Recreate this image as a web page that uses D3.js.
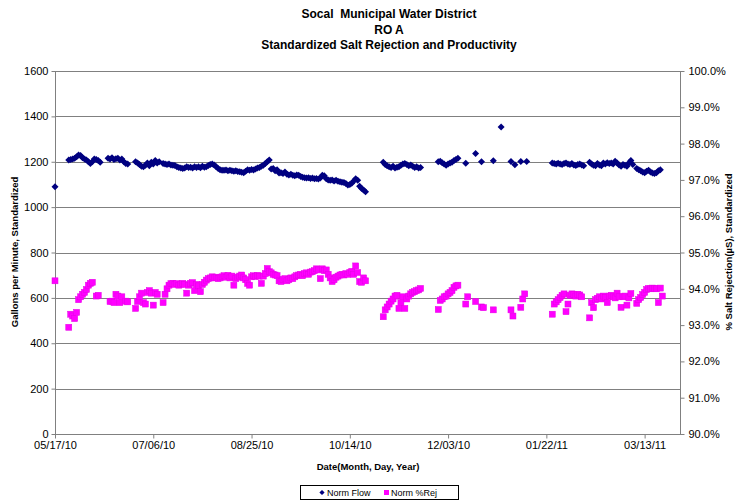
<!DOCTYPE html>
<html><head><meta charset="utf-8">
<script src="https://cdn.jsdelivr.net/npm/d3@7"></script>
<style>body{margin:0;background:#fff}svg{display:block}text{font-family:"Liberation Sans",Arial,sans-serif;white-space:pre}</style>
</head><body><svg id="c" width="739" height="500"></svg>
<script>
// Data (day offsets since 05/17/10)
const startDate = [2010, 4, 17];
const flowDays = [0,7,8,9,10,11,12,13,14,15,16,17,18,19,20,21,22,23,
27,28,29,30,31,32,33,34,35,36,37,
41,42,43,44,45,46,47,48,49,50,51,52,53,
55,56,57,58,59,60,61,62,63,64,65,66,67,68,69,70,71,72,73,74,75,76,77,78,79,80,81,82,83,84,85,86,87,88,89,90,91,92,93,94,95,96,97,98,99,100,101,102,103,104,105,106,107,108,109,110,111,112,113,114,115,116,117,118,119,120,121,122,123,124,125,126,127,128,129,130,131,132,133,134,135,136,137,138,139,140,141,142,143,144,145,146,147,148,149,150,151,152,153,154,155,156,157,158,
167,168,169,170,171,172,173,174,175,176,177,178,179,180,181,182,183,184,185,186,
195,196,197,198,199,200,201,202,203,204,205,
209,214,217,223,227,232,234,237,240,
253,254,255,256,257,258,259,260,261,262,263,264,265,266,267,268,269,
272,273,274,275,276,277,278,279,280,281,282,283,284,285,286,287,288,289,290,291,292,293,294,
296,297,298,299,300,301,302,303,304,305,306,307,308];
const flowValues = [1090,1208,1210,1212,1215,1222,1230,1228,1218,1212,1208,1200,1192,1200,1212,1210,1205,1198,
1215,1212,1218,1210,1213,1215,1208,1212,1200,1192,1190,
1200,1195,1188,1180,1178,1185,1195,1182,1198,1190,1205,1195,1200,
1192,1190,1188,1190,1186,1185,1183,1178,1175,1172,1170,1172,1178,1175,1176,1172,1178,1175,1178,1174,1180,1176,1178,1183,1188,1190,1186,1178,1170,1165,1163,1162,1164,1160,1162,1160,1158,1160,1157,1156,1154,1152,1158,1165,1162,1166,1164,1168,1172,1175,1180,1185,1192,1200,1208,1168,1170,1160,1165,1150,1152,1148,1155,1145,1142,1145,1140,1138,1142,1140,1135,1132,1130,1128,1130,1126,1128,1125,1126,1124,1128,1140,1138,1125,1120,1118,1120,1115,1118,1114,1112,1110,1108,1104,1098,1100,1105,1115,1125,1118,1092,1082,1075,1068,
1198,1188,1182,1178,1175,1180,1172,1176,1178,1185,1190,1192,1188,1182,1186,1180,1175,1178,1172,1175,
1200,1202,1196,1190,1185,1190,1195,1198,1205,1210,1215,
1193,1236,1200,1204,1353,1201,1187,1201,1201,
1195,1192,1190,1193,1190,1188,1192,1195,1190,1188,1192,1186,1183,1188,1190,1186,1182,
1198,1190,1185,1182,1192,1186,1182,1195,1190,1196,1192,1195,1190,1202,1195,1186,1180,1188,1185,1180,1195,1205,1188,
1170,1165,1160,1155,1152,1158,1162,1155,1150,1148,1152,1160,1165];
const rejDays = [0,7,8,9,10,11,12,13,14,15,16,17,18,19,21,22,
28,29,30,31,32,33,34,36,37,
41,42,43,44,45,46,47,48,49,50,51,52,
55,56,57,58,59,60,61,62,63,64,65,66,67,68,69,70,71,72,73,74,75,76,77,78,79,80,81,82,83,84,85,86,87,88,89,90,91,92,93,94,95,96,97,98,99,100,101,102,103,104,105,106,107,108,109,110,111,112,113,114,115,116,117,118,119,120,121,122,123,124,125,126,127,128,129,130,131,132,133,134,135,136,137,138,139,140,141,142,143,144,145,146,147,148,149,150,151,152,153,154,155,156,157,158,
167,168,169,170,171,172,173,174,175,176,177,178,179,180,181,182,183,184,185,186,
195,196,197,198,199,200,201,202,203,204,205,
209,210,214,217,218,223,232,233,237,238,239,
253,254,255,256,257,258,259,260,261,262,263,264,265,266,267,268,
272,273,274,275,276,277,278,279,280,281,282,283,284,285,286,287,288,289,290,291,292,293,
296,297,298,299,300,301,302,303,304,305,306,307,308,309];
const rejValues = [94.22,92.94,93.30,93.25,93.18,93.35,93.70,93.78,93.85,93.90,93.98,94.10,94.15,94.18,93.80,93.82,
93.65,93.66,93.62,93.85,93.80,93.62,93.78,93.66,93.64,
93.46,93.65,93.78,93.88,93.62,93.58,93.90,93.95,93.88,93.55,93.90,93.85,
93.62,93.85,94.00,94.10,94.14,94.15,94.12,94.14,94.10,94.13,94.15,94.12,93.88,94.10,94.15,94.17,93.95,94.12,94.08,93.92,94.12,94.18,94.24,94.28,94.30,94.33,94.30,94.32,94.28,94.30,94.33,94.36,94.32,94.37,94.30,94.35,94.10,94.28,94.32,94.35,94.38,94.30,94.25,94.15,94.10,94.33,94.36,94.34,94.37,94.35,94.15,94.35,94.42,94.56,94.47,94.44,94.40,94.38,94.36,94.22,94.20,94.26,94.28,94.22,94.25,94.30,94.28,94.33,94.36,94.38,94.40,94.36,94.42,94.44,94.40,94.46,94.47,94.50,94.55,94.52,94.28,94.55,94.50,94.52,94.40,94.30,94.20,94.25,94.32,94.35,94.38,94.40,94.38,94.42,94.40,94.45,94.48,94.40,94.63,94.45,94.20,94.18,94.30,94.22,
93.23,93.42,93.50,93.58,93.66,93.72,93.80,93.82,93.46,93.62,93.78,93.46,93.72,93.80,93.86,93.90,93.92,93.95,93.97,94.01,
93.43,93.68,93.72,93.78,93.80,93.86,93.90,93.95,94.04,94.08,94.10,
93.58,93.78,93.65,93.50,93.48,93.42,93.42,93.25,93.49,93.72,93.86,
93.30,93.58,93.64,93.70,93.76,93.82,93.86,93.37,93.58,93.82,93.86,93.84,93.80,93.85,93.83,93.78,
93.20,93.62,93.48,93.70,93.74,93.78,93.72,93.80,93.76,93.62,93.80,93.82,93.78,93.75,93.88,93.78,93.49,93.78,93.80,93.55,93.75,93.87,
93.60,93.70,93.76,93.84,93.90,93.98,94.01,94.00,94.02,94.01,94.00,93.62,94.02,93.80];
const leftTicks = [0,200,400,600,800,1000,1200,1400,1600];
const rightTicks = [90,91,92,93,94,95,96,97,98,99,100];
const xTickDays = [0,50,100,150,200,250,300];
const axisEndDay = 318;
const titleLines = ["Socal  Municipal Water District","RO A","Standardized Salt Rejection and Productivity"];

const svg = d3.select("#c");
const L=55,R=680,T=71,B=434;
const day0 = new Date(startDate[0], startDate[1], startDate[2]);
const dt = d => d3.timeDay.offset(day0, d);
const x = d3.scaleTime().domain([day0, dt(axisEndDay)]).range([L,R]);
const y = d3.scaleLinear().domain([0,1600]).range([B,T]);
const y2 = d3.scaleLinear().domain([90,100]).range([B,T]);

// gridlines
svg.append("g").selectAll("line").data(leftTicks.filter(v=>v>0)).join("line")
  .attr("x1",L).attr("x2",R).attr("y1",d=>Math.round(y(d))+0.5).attr("y2",d=>Math.round(y(d))+0.5)
  .attr("stroke","#808080").attr("stroke-width",1);

// axes
const fmtDate = d3.timeFormat("%m/%d/%y");
const gx = svg.append("g").attr("transform",`translate(0,${B+0.5})`)
  .call(d3.axisBottom(x).tickValues(xTickDays.map(dt)).tickFormat(fmtDate).tickSize(4).tickPadding(3));
const gy = svg.append("g").attr("transform",`translate(${L+0.5},0)`)
  .call(d3.axisLeft(y).tickValues(leftTicks).tickFormat(d3.format("d")).tickSize(4).tickPadding(3));
const gy2 = svg.append("g").attr("transform",`translate(${R+0.5},0)`)
  .call(d3.axisRight(y2).tickValues(rightTicks).tickFormat(d=>d3.format(".1f")(d)+"%").tickSize(4).tickPadding(4));
[gx,gy,gy2].forEach(g=>{
  g.selectAll("path,line").attr("stroke","#808080");
  g.selectAll("path").attr("d", null);
  g.selectAll("text").attr("font-size","11px").attr("fill","#000").attr("font-family","'Liberation Sans',Arial,sans-serif");
});
svg.append("line").attr("x1",L+0.5).attr("x2",L+0.5).attr("y1",T).attr("y2",B+0.5).attr("stroke","#808080");
svg.append("line").attr("x1",R+0.5).attr("x2",R+0.5).attr("y1",T).attr("y2",B+0.5).attr("stroke","#808080");
svg.append("line").attr("x1",L).attr("x2",R+1).attr("y1",B+0.5).attr("y2",B+0.5).attr("stroke","#808080");

// markers
const diamond = (cx,cy,s)=>`M${cx},${cy-s}L${cx+s},${cy}L${cx},${cy+s}L${cx-s},${cy}Z`;
svg.append("g").selectAll("rect").data(rejDays.map((d,i)=>[d,rejValues[i]])).join("rect")
  .attr("x",d=>x(dt(d[0]))-3).attr("y",d=>y2(d[1])-3).attr("width",6).attr("height",6)
  .attr("fill","#FF00FF").attr("stroke","#e600e6").attr("stroke-width",0.5);
svg.append("g").selectAll("path").data(flowDays.map((d,i)=>[d,flowValues[i]])).join("path")
  .attr("d",d=>diamond(x(dt(d[0])),y(d[1]),3.5)).attr("fill","#000080");

// titles
svg.append("g").selectAll("text").data(titleLines).join("text")
  .attr("x",389).attr("y",(d,i)=>18+i*15.5).attr("text-anchor","middle").attr("xml:space","preserve")
  .attr("font-size","12px").attr("font-weight","bold").text(d=>d);
svg.append("text").attr("x",368).attr("y",470).attr("text-anchor","middle")
  .attr("font-size","9.5px").attr("font-weight","bold").text("Date(Month, Day, Year)");
svg.append("text").attr("transform","translate(18,252) rotate(-90)").attr("text-anchor","middle")
  .attr("font-size","9.5px").attr("font-weight","bold").text("Gallons per Minute, Standardized");
svg.append("text").attr("transform","translate(732,252) rotate(-90)").attr("text-anchor","middle")
  .attr("font-size","9.5px").attr("font-weight","bold").text("% Salt Rejection(µS), Standardized");

// legend
const lg = svg.append("g");
lg.append("rect").attr("x",300.5).attr("y",485.5).attr("width",158).attr("height",14).attr("fill","#fff").attr("stroke","#000").attr("stroke-width",1);
lg.append("path").attr("d",diamond(322,492.5,2.6)).attr("fill","#000080");
lg.append("text").attr("x",327).attr("y",496).attr("font-size","9px").text("Norm Flow");
lg.append("rect").attr("x",384).attr("y",490).attr("width",5).attr("height",5).attr("fill","#FF00FF");
lg.append("text").attr("x",391).attr("y",496).attr("font-size","9px").text("Norm %Rej");
</script></body></html>
